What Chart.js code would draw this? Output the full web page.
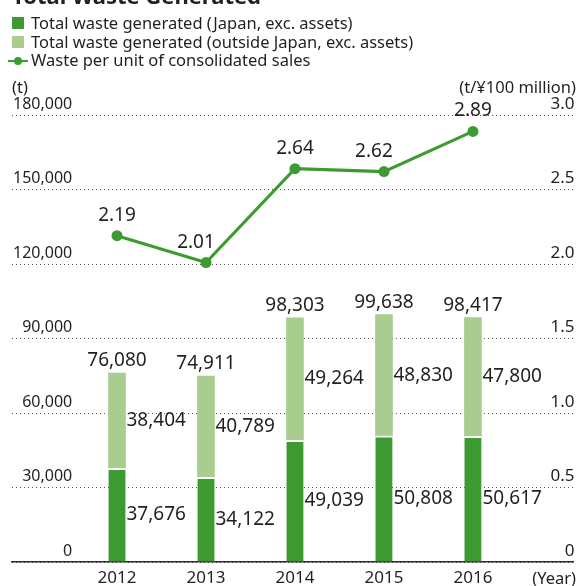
<!DOCTYPE html>
<html>
<head>
<meta charset="utf-8">
<script src="https://cdn.jsdelivr.net/npm/chart.js@4.4.1/dist/chart.umd.min.js"></script>
<style>
  body { margin: 0; background: #fff; font-family: "Noto Sans", sans-serif; color: #231f20; }
  #wrap { position: relative; width: 579px; height: 586px; overflow: hidden; }
  #wasteChart { position: absolute; left: 0; top: 0; }
  .title { position: absolute; left: 12px; top: -16px; font-size: 22px; font-weight: bold; line-height: 22px; white-space: nowrap; }
  .legend { position: absolute; left: 0; top: 14px; font-size: 16.5px; }
  .legend div { position: relative; height: 18.7px; line-height: 18.7px; padding-left: 31px; white-space: nowrap; }
  .sw { position: absolute; left: 12px; top: 3.3px; width: 12px; height: 12px; }
  .ln { position: absolute; left: 8px; top: 8.2px; width: 20px; height: 2.5px; background: #3d9b31; }
  .dot { position: absolute; left: 14.3px; top: 5.4px; width: 8px; height: 8px; border-radius: 50%; background: #3d9b31; }
  .unit { position: absolute; font-size: 16.5px; line-height: 20px; white-space: nowrap; }
</style>
</head>
<body>
<div id="wrap">
  <canvas id="wasteChart" width="579" height="586"></canvas>
  <div class="title">Total Waste Generated</div>
  <div class="legend">
    <div><span class="sw" style="background:#3c9a30"></span>Total waste generated (Japan, exc. assets)</div>
    <div><span class="sw" style="background:#a9cc8f"></span>Total waste generated (outside Japan, exc. assets)</div>
    <div><span class="ln"></span><span class="dot"></span>Waste per unit of consolidated sales</div>
  </div>
  <div class="unit" style="left:12px; top:77px;">(t)</div>
  <div class="unit" style="right:3px; top:77px;">(t/¥100 million)</div>
  <div class="unit" style="right:3px; top:568px;">(Year)</div>
</div>
<script>
// Dati
const years = ['2012', '2013', '2014', '2015', '2016'];
const japanWaste = [37676, 34122, 49039, 50808, 50617];
const overseasWaste = [38404, 40789, 49264, 48830, 47800];
const totalWaste = [76080, 74911, 98303, 99638, 98417];
const wastePerSales = [2.19, 2.01, 2.64, 2.62, 2.89];
const leftTicks = [0, 30000, 60000, 90000, 120000, 150000, 180000];
const rightTicks = [0, 0.5, 1.0, 1.5, 2.0, 2.5, 3.0];

const DARK = '#3c9a30';
const LIGHT = '#a9cc8f';
const LINE = '#3d9b31';
const TEXT = '#231f20';

// Etichette dei valori (segmenti, totali, linea)
const valueLabels = {
    id: 'valueLabels',
    afterDatasetsDraw(chart) {
        const ctx = chart.ctx;
        ctx.save();
        ctx.font = '19px "Noto Sans"';
        ctx.fillStyle = TEXT;

        [japanWaste, overseasWaste].forEach((values, di) => {
            chart.getDatasetMeta(di).data.forEach((bar, i) => {
                ctx.textAlign = 'left';
                ctx.textBaseline = 'middle';
                ctx.fillText(values[i].toLocaleString('en-US'), bar.x + bar.width / 2 + 1, (bar.y + bar.base) / 2);
            });
        });

        ctx.textAlign = 'center';
        ctx.textBaseline = 'alphabetic';
        chart.getDatasetMeta(1).data.forEach((bar, i) => {
            ctx.fillText(totalWaste[i].toLocaleString('en-US'), bar.x, bar.y - 7);
        });

        chart.getDatasetMeta(2).data.forEach((pt, i) => {
            const prev = wastePerSales[i - 1], next = wastePerSales[i + 1];
            const dip = prev > wastePerSales[i] && next > wastePerSales[i];
            ctx.fillText(wastePerSales[i].toFixed(2), pt.x - (dip ? 10 : 0), pt.y - 15);
        });
        ctx.restore();
    }
};

const ctx = document.getElementById('wasteChart').getContext('2d');
const wasteChart = new Chart(ctx, {
    type: 'bar',
    data: {
        labels: years,
        datasets: [
            {
                label: 'Total waste generated (Japan, exc. assets)',
                data: japanWaste,
                backgroundColor: DARK,
                borderColor: '#fff',
                borderWidth: { top: 2, left: 0, right: 0, bottom: 0 },
                borderSkipped: false,
                barThickness: 17,
                yAxisID: 'y',
                order: 2
            },
            {
                label: 'Total waste generated (outside Japan, exc. assets)',
                data: overseasWaste,
                backgroundColor: LIGHT,
                borderWidth: 0,
                barThickness: 17,
                yAxisID: 'y',
                order: 2
            },
            {
                type: 'line',
                label: 'Waste per unit of consolidated sales',
                data: wastePerSales,
                borderColor: LINE,
                backgroundColor: LINE,
                borderWidth: 3,
                pointRadius: 5.5,
                pointHoverRadius: 5.5,
                pointBackgroundColor: LINE,
                pointBorderWidth: 0,
                tension: 0,
                yAxisID: 'y1',
                order: 1
            }
        ]
    },
    options: {
        responsive: false,
        animation: false,
        devicePixelRatio: 1,
        layout: { padding: { left: 10, right: 0, top: 115, bottom: 0 } },
        plugins: {
            legend: { display: false }, // legenda in HTML
            tooltip: { enabled: false }
        },
        scales: {
            x: {
                type: 'linear',
                stacked: true,
                offset: false,
                min: 2010.82,
                max: 2017.13,
                afterBuildTicks: (s) => { s.ticks = years.map(y => ({ value: +y })); },
                afterFit: (s) => { s.height = 24; },
                grid: { display: false, drawTicks: false },
                border: { display: true, color: '#2a2a2a', width: 1.5 },
                ticks: {
                    padding: 6,
                    autoSkip: false,
                    maxRotation: 0,
                    color: TEXT,
                    font: { family: 'Noto Sans', size: 17 },
                    callback: (v) => String(v)
                }
            },
            y: {
                position: 'left',
                stacked: true,
                min: 0,
                max: 180000,
                afterBuildTicks: (s) => { s.ticks = leftTicks.map(v => ({ value: v })); },
                border: { display: false, dash: [1, 3] },
                grid: {
                    color: '#555',
                    lineWidth: 1,
                    drawTicks: false
                },
                ticks: {
                    mirror: true,
                    crossAlign: 'far',
                    padding: 1,
                    labelOffset: -11,
                    color: TEXT,
                    font: { family: 'Noto Sans', size: 16 },
                    callback: (v) => v.toLocaleString('en-US')
                }
            },
            y1: {
                position: 'right',
                min: 0,
                max: 3,
                afterBuildTicks: (s) => { s.ticks = rightTicks.map(v => ({ value: v })); },
                border: { display: false },
                grid: { display: false, drawTicks: false },
                ticks: {
                    mirror: true,
                    padding: 1,
                    labelOffset: -11,
                    color: TEXT,
                    font: { family: 'Noto Sans', size: 17 },
                    callback: (v) => v === 0 ? '0' : v.toFixed(1)
                }
            }
        }
    },
    plugins: [valueLabels]
});
</script>
</body>
</html>
